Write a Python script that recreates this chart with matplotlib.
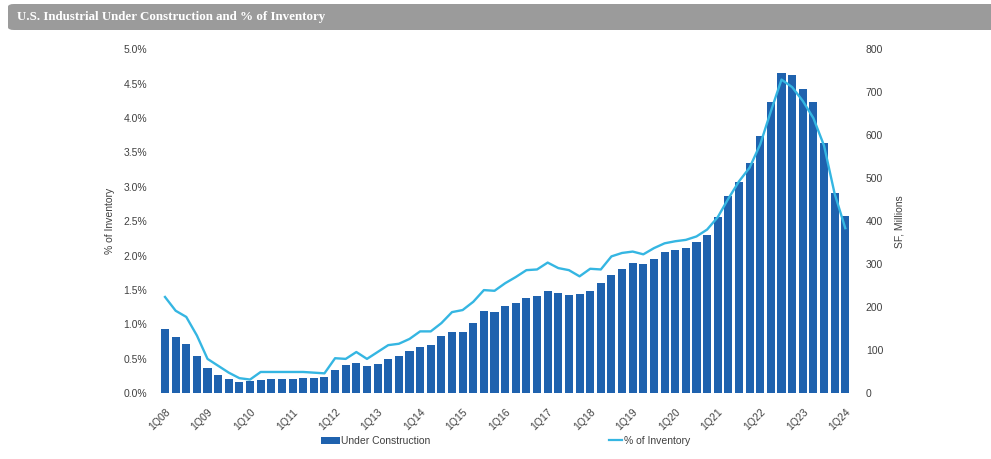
import matplotlib
matplotlib.use("Agg")
import matplotlib.pyplot as plt
from matplotlib.patches import FancyBboxPatch, Patch
from matplotlib.lines import Line2D
import numpy as np

# ---- data ----
quarters = [f"{q}Q{y:02d}" for y in range(8, 25) for q in range(1, 5)][:65]
tick_labels = [f"1Q{y:02d}" for y in range(8, 25)]

under_construction = [
    149, 132, 115, 87, 59, 43, 33, 27, 29, 31, 34, 34, 34, 36, 36, 39,   # 1Q08-4Q11
    55, 66, 70, 63, 68, 80, 87, 99, 107, 112, 134, 143, 143, 163, 192, 190,  # 1Q12-4Q15
    204, 209, 222, 226, 237, 234, 229, 231, 239, 257, 276, 288, 303, 301, 313, 328,  # 1Q16-4Q19
    334, 339, 351, 368, 410, 458, 492, 536, 599, 678, 745, 741, 708, 678, 583, 466,  # 1Q20-4Q23
    413,  # 1Q24
]
pct_inventory = [
    1.40, 1.20, 1.11, 0.84, 0.50, 0.40, 0.30, 0.22, 0.20, 0.31, 0.31, 0.31, 0.31, 0.31, 0.30, 0.29,
    0.51, 0.50, 0.60, 0.50, 0.60, 0.70, 0.72, 0.79, 0.90, 0.90, 1.02, 1.18, 1.21, 1.33, 1.50, 1.49,
    1.60, 1.69, 1.79, 1.80, 1.90, 1.82, 1.79, 1.70, 1.81, 1.80, 1.99, 2.04, 2.06, 2.02, 2.11, 2.18,
    2.21, 2.23, 2.28, 2.38, 2.56, 2.83, 3.08, 3.28, 3.62, 4.10, 4.56, 4.45, 4.25, 4.00, 3.60, 2.90,
    2.40,
]

left_ticks = [0.0, 0.5, 1.0, 1.5, 2.0, 2.5, 3.0, 3.5, 4.0, 4.5, 5.0]
right_ticks = [0, 100, 200, 300, 400, 500, 600, 700, 800]

BAR_COLOR = "#1F62AE"
LINE_COLOR = "#35B6E2"
TEXT_COLOR = "#404040"
FONT = "Liberation Sans"

W, H = 991, 459
fig = plt.figure(figsize=(W / 100, H / 100), dpi=100)
fig.patch.set_facecolor("white")

# title bar
bar = FancyBboxPatch((8 / W, 1 - 30 / H), 1.0, 26 / H, transform=fig.transFigure,
                     boxstyle="round,pad=0,rounding_size=0.006", facecolor="#9B9B9B",
                     edgecolor="none", zorder=0)
fig.patches.append(bar)
fig.text(17 / W, 1 - 17 / H, "U.S. Industrial Under Construction and % of Inventory",
         color="white", fontsize=9.4, fontweight="bold", family="Liberation Serif",
         va="center", ha="left")

ax_left = 159.7 / W
ax_w = (850.6 - 159.7) / W
ax_b = (H - 393.3) / H
ax_h = (393.3 - 49.3) / H

ax2 = fig.add_axes([ax_left, ax_b, ax_w, ax_h])  # right axis (bars)
ax = ax2.twinx()

x = np.arange(len(quarters))
ax2.bar(x, under_construction, width=0.76, color=BAR_COLOR, zorder=2)
ax2.set_ylim(0, 800)
ax2.set_xlim(-0.5, len(quarters) - 0.5)

# put percentage axis on the left
ax.yaxis.tick_left()
ax.yaxis.set_label_position("left")
ax2.yaxis.tick_right()
ax2.yaxis.set_label_position("right")

ax.plot(x, pct_inventory, color=LINE_COLOR, lw=1.7, zorder=3, solid_joinstyle="round")
ax.set_ylim(0, 5.0)

for a in (ax, ax2):
    for s in a.spines.values():
        s.set_visible(False)
    a.tick_params(length=0, colors=TEXT_COLOR, labelsize=7.5)

ax.set_yticks(left_ticks)
ax.set_yticklabels([f"{v:.1f}%" for v in left_ticks], family=FONT)
ax.tick_params(axis="y", pad=9)
ax2.set_yticks(right_ticks)
ax2.set_yticklabels([str(v) for v in right_ticks], family=FONT)
ax2.tick_params(axis="y", pad=11)

tick_pos = [quarters.index(t) for t in tick_labels]
ax2.set_xticks(tick_pos)
ax2.set_xticklabels(tick_labels, rotation=45, ha="right", va="top",
                    rotation_mode="anchor", family=FONT, fontsize=7.5, color=TEXT_COLOR)
ax2.tick_params(axis="x", pad=10)

ax.set_ylabel("% of Inventory", fontsize=7.5, family=FONT, color=TEXT_COLOR, labelpad=6)
ax2.set_ylabel("SF, Millions", fontsize=7.5, family=FONT, color=TEXT_COLOR, labelpad=8,
               rotation=90)

# legends
h1 = Patch(facecolor=BAR_COLOR, edgecolor="none")
leg1 = fig.legend([h1], ["Under Construction"], loc="center left",
                  bbox_to_anchor=(312 / W, 1 - 441 / H), frameon=False,
                  prop={"family": FONT, "size": 7.5}, handlelength=1.8, handleheight=0.6,
                  handletextpad=0.1, labelcolor=TEXT_COLOR)
h2 = Line2D([0], [0], color=LINE_COLOR, lw=1.6)
leg2 = fig.legend([h2], ["% of Inventory"], loc="center left",
                  bbox_to_anchor=(600 / W, 1 - 441 / H), frameon=False,
                  prop={"family": FONT, "size": 7.5}, handlelength=1.2,
                  handletextpad=0.2, labelcolor=TEXT_COLOR)

fig.savefig("out.png", dpi=100, facecolor="white")
